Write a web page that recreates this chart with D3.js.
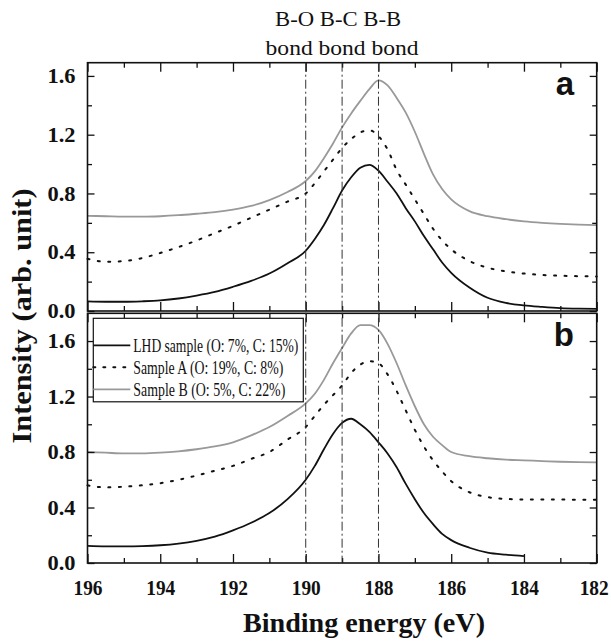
<!DOCTYPE html>
<html>
<head>
<meta charset="utf-8">
<script src="https://cdn.jsdelivr.net/npm/d3@7"></script>
<style>
  body { margin: 0; background: #fff; }
  svg { display: block; }
  text { fill: #111; }
</style>
</head>
<body>
<div id="chart"></div>
<script>
// Binding energy grid (eV) shared by the curves
const energy = [196, 195.5, 195, 194.5, 194, 193.5, 193, 192.5, 192, 191.5, 191, 190.5, 190,
  189.75, 189.5, 189.25, 189, 188.75, 188.5, 188.25, 188, 187.75, 187.5, 187.25, 187,
  186.75, 186.5, 186.25, 186, 185.5, 185, 184.5, 184, 183.5, 183, 182.5, 182];
// LHD curve in panel b stops at 184 eV
const energyShort = energy.slice(0, 33);

// panel a
const lhdA = [0.065, 0.063, 0.063, 0.066, 0.072, 0.085, 0.105, 0.13, 0.165, 0.205, 0.255, 0.325, 0.41,
  0.49, 0.585, 0.70, 0.82, 0.91, 0.975, 0.995, 0.955, 0.88, 0.80, 0.70, 0.61,
  0.51, 0.42, 0.33, 0.26, 0.16, 0.09, 0.055, 0.038, 0.028, 0.02, 0.016, 0.014];
const sampleAA = [0.355, 0.335, 0.34, 0.36, 0.395, 0.435, 0.48, 0.53, 0.58, 0.635, 0.69, 0.745, 0.80,
  0.87, 0.95, 1.03, 1.11, 1.17, 1.215, 1.23, 1.19, 1.10, 0.96, 0.86, 0.76,
  0.66, 0.56, 0.48, 0.42, 0.34, 0.295, 0.27, 0.255, 0.245, 0.24, 0.237, 0.235];
const sampleBA = [0.648, 0.645, 0.642, 0.642, 0.645, 0.652, 0.662, 0.673, 0.69, 0.715, 0.755, 0.81, 0.885,
  0.95, 1.04, 1.14, 1.25, 1.345, 1.43, 1.51, 1.57, 1.535, 1.45, 1.35, 1.22,
  1.07, 0.93, 0.83, 0.76, 0.68, 0.645, 0.625, 0.61, 0.60, 0.593, 0.588, 0.585];

// panel b
const lhdB = [0.123, 0.12, 0.12, 0.122, 0.128, 0.14, 0.16, 0.19, 0.235, 0.29, 0.36, 0.46, 0.60,
  0.70, 0.82, 0.93, 1.01, 1.04, 1.0, 0.945, 0.87, 0.79, 0.69, 0.57, 0.46,
  0.36, 0.28, 0.21, 0.165, 0.11, 0.075, 0.06, 0.05];
const sampleAB = [0.56, 0.545, 0.55, 0.56, 0.575, 0.60, 0.63, 0.665, 0.70, 0.75, 0.80, 0.89, 0.98,
  1.06, 1.14, 1.21, 1.28, 1.37, 1.43, 1.455, 1.44, 1.36, 1.24, 1.10, 0.96,
  0.84, 0.74, 0.66, 0.59, 0.51, 0.475, 0.462, 0.458, 0.457, 0.457, 0.456, 0.455];
const sampleBB = [0.80, 0.795, 0.79, 0.79, 0.795, 0.805, 0.82, 0.84, 0.87, 0.92, 0.98, 1.06, 1.15,
  1.22, 1.32, 1.44, 1.55, 1.655, 1.715, 1.715, 1.68, 1.58, 1.44, 1.28, 1.13,
  1.00, 0.91, 0.85, 0.80, 0.77, 0.755, 0.745, 0.74, 0.735, 0.73, 0.727, 0.725];

const seriesNames = ['LHD sample (O: 7%, C: 15%)', 'Sample A (O: 19%, C: 8%)', 'Sample B (O: 5%, C: 22%)'];
const bondEnergies = [190, 189, 188];
const xMajorTicks = [196, 194, 192, 190, 188, 186, 184, 182];
const xMinorTicks = [195, 193, 191, 189, 187, 185, 183];
const yMajorTicks = [0, 0.4, 0.8, 1.2, 1.6];
const yMinorTicks = [0.2, 0.6, 1.0, 1.4];

const WIDTH = 611;
const HEIGHT = 642;
const LEFT = 87.5;
const RIGHT = 596.7;
const SERIF = '"Liberation Serif", Tinos, "Times New Roman", Times, "DejaVu Serif", serif';
const SANS = '"Liberation Sans", Arimo, Arial, Helvetica, sans-serif';

const STYLES = [
  { stroke: '#111', width: 1.8, dash: null },
  { stroke: '#111', width: 2, dash: '2,8.5' },
  { stroke: '#999', width: 1.8, dash: null }
];

const svg = d3.select('#chart').append('svg')
  .attr('width', WIDTH)
  .attr('height', HEIGHT);

const x = d3.scaleLinear().domain([196, 182]).range([LEFT, RIGHT]);

const panels = [
  { label: 'a', y: d3.scaleLinear().domain([0, 1.69]).range([311, 62.7]),
    curves: [[energy, lhdA], [energy, sampleAA], [energy, sampleBA]], xLabels: false },
  { label: 'b', y: d3.scaleLinear().domain([0, 1.80]).range([563, 313.3]),
    curves: [[energyShort, lhdB], [energy, sampleAB], [energy, sampleBB]], xLabels: true }
];

panels.forEach(p => {
  const [yBottom, yTop] = p.y.range();
  const g = svg.append('g').attr('class', 'panel-' + p.label);

  // curves
  p.curves.forEach((c, i) => {
    const pts = c[0].map((e, k) => [e, c[1][k]]);
    const line = d3.line()
      .x(d => x(d[0]))
      .y(d => p.y(d[1]))
      .curve(d3.curveMonotoneX);
    g.append('path')
      .datum(pts)
      .attr('d', line)
      .attr('fill', 'none')
      .attr('stroke', STYLES[i].stroke)
      .attr('stroke-width', STYLES[i].width)
      .attr('stroke-dasharray', STYLES[i].dash)
      .attr('stroke-linecap', i === 1 ? 'round' : 'butt');
  });

  // left / right axes, ticks pointing inward
  const left = g.append('g').attr('transform', `translate(${LEFT},0)`)
    .call(d3.axisLeft(p.y).tickValues(yMajorTicks).tickSize(-7).tickPadding(12)
      .tickFormat(d3.format('.1f')));
  left.append('g').call(d3.axisLeft(p.y).tickValues(yMinorTicks).tickSize(-4.5).tickFormat(''));
  left.selectAll('text')
    .style('font-size', '21px')
    .style('font-weight', 'bold')
    .style('font-family', SERIF)
    .attr('textLength', 28)
    .attr('lengthAdjust', 'spacingAndGlyphs')
    .attr('fill', '#111');

  const right = g.append('g').attr('transform', `translate(${RIGHT},0)`);
  right.call(d3.axisRight(p.y).tickValues(yMajorTicks).tickSize(-7).tickFormat(''));
  right.append('g').call(d3.axisRight(p.y).tickValues(yMinorTicks).tickSize(-4.5).tickFormat(''));

  // top / bottom axes
  const top = g.append('g').attr('transform', `translate(0,${yTop})`);
  top.call(d3.axisTop(x).tickValues(xMajorTicks).tickSize(-9).tickFormat(''));
  top.append('g').call(d3.axisTop(x).tickValues(xMinorTicks).tickSize(-5).tickFormat(''));

  const bottom = g.append('g').attr('transform', `translate(0,${yBottom})`);
  bottom.call(d3.axisBottom(x).tickValues(xMajorTicks).tickSize(-9).tickPadding(16)
    .tickFormat(p.xLabels ? d3.format('d') : ''));
  bottom.append('g').call(d3.axisBottom(x).tickValues(xMinorTicks).tickSize(-5).tickFormat(''));
  bottom.selectAll('text')
    .style('font-size', '22px')
    .style('font-weight', 'bold')
    .style('font-family', SERIF)
    .attr('textLength', 29)
    .attr('lengthAdjust', 'spacingAndGlyphs')
    .attr('dx', d => d === 182 ? -3 : 0)
    .attr('fill', '#111');

  g.selectAll('.domain').remove();
  g.selectAll('.tick line').attr('stroke', '#111').attr('stroke-width', 1.3);

  // frame
  g.append('rect')
    .attr('x', LEFT).attr('y', yTop)
    .attr('width', RIGHT - LEFT).attr('height', yBottom - yTop)
    .attr('fill', 'none').attr('stroke', '#111').attr('stroke-width', 1.6);

  // panel letter
  g.append('text')
    .attr('x', 574).attr('y', yTop + 32.5)
    .attr('text-anchor', 'end')
    .style('font-family', SANS)
    .style('font-weight', 'bold')
    .style('font-size', '33px')
    .text(p.label);
});

// bond reference lines across both panels
svg.append('g').selectAll('line')
  .data(bondEnergies)
  .join('line')
  .attr('x1', d => x(d)).attr('x2', d => x(d))
  .attr('y1', panels[0].y.range()[1]).attr('y2', panels[1].y.range()[0])
  .attr('stroke', '#333')
  .attr('stroke-width', 1)
  .attr('stroke-dasharray', '9,3,2,3');

// bond labels
const bondX = d3.mean(bondEnergies, d => x(d));
svg.append('text')
  .attr('x', bondX - 4).attr('y', 26)
  .attr('text-anchor', 'middle')
  .style('font-family', SERIF)
  .style('font-size', '21px')
  .attr('textLength', 126)
  .attr('lengthAdjust', 'spacingAndGlyphs')
  .text('B-O B-C B-B');
svg.append('text')
  .attr('x', bondX).attr('y', 55)
  .attr('text-anchor', 'middle')
  .style('font-family', SERIF)
  .style('font-size', '21px')
  .attr('textLength', 153)
  .attr('lengthAdjust', 'spacingAndGlyphs')
  .text('bond bond bond');

// legend in panel b
const legend = svg.append('g').attr('transform', 'translate(93.3,318.3)');
legend.append('rect')
  .attr('width', 210).attr('height', 83.5)
  .attr('fill', '#fff').attr('stroke', '#111').attr('stroke-width', 1.2);
const legendLen = [165, 150, 152];
seriesNames.forEach((name, i) => {
  const row = legend.append('g').attr('transform', `translate(0,${27 + i * 22})`);
  row.append('line')
    .attr('x1', 0).attr('x2', i === 1 ? 32 : 37)
    .attr('y1', 0).attr('y2', 0)
    .attr('stroke', STYLES[i].stroke)
    .attr('stroke-width', STYLES[i].width)
    .attr('stroke-dasharray', i === 1 ? '2,8' : null)
    .attr('stroke-linecap', i === 1 ? 'round' : 'butt');
  row.append('text')
    .attr('x', 40).attr('y', 6.5)
    .style('font-family', SERIF)
    .style('font-size', '18px')
    .attr('textLength', legendLen[i])
    .attr('lengthAdjust', 'spacingAndGlyphs')
    .text(name);
});

// axis titles
svg.append('text')
  .attr('x', 364).attr('y', 632)
  .attr('text-anchor', 'middle')
  .style('font-family', SERIF)
  .style('font-size', '28px')
  .style('font-weight', 'bold')
  .attr('textLength', 242)
  .attr('lengthAdjust', 'spacingAndGlyphs')
  .text('Binding energy (eV)');

svg.append('text')
  .attr('transform', 'translate(31,316) rotate(-90)')
  .attr('text-anchor', 'middle')
  .style('font-family', SERIF)
  .style('font-size', '28px')
  .style('font-weight', 'bold')
  .attr('textLength', 255)
  .attr('lengthAdjust', 'spacingAndGlyphs')
  .text('Intensity (arb. unit)');
</script>
</body>
</html>
